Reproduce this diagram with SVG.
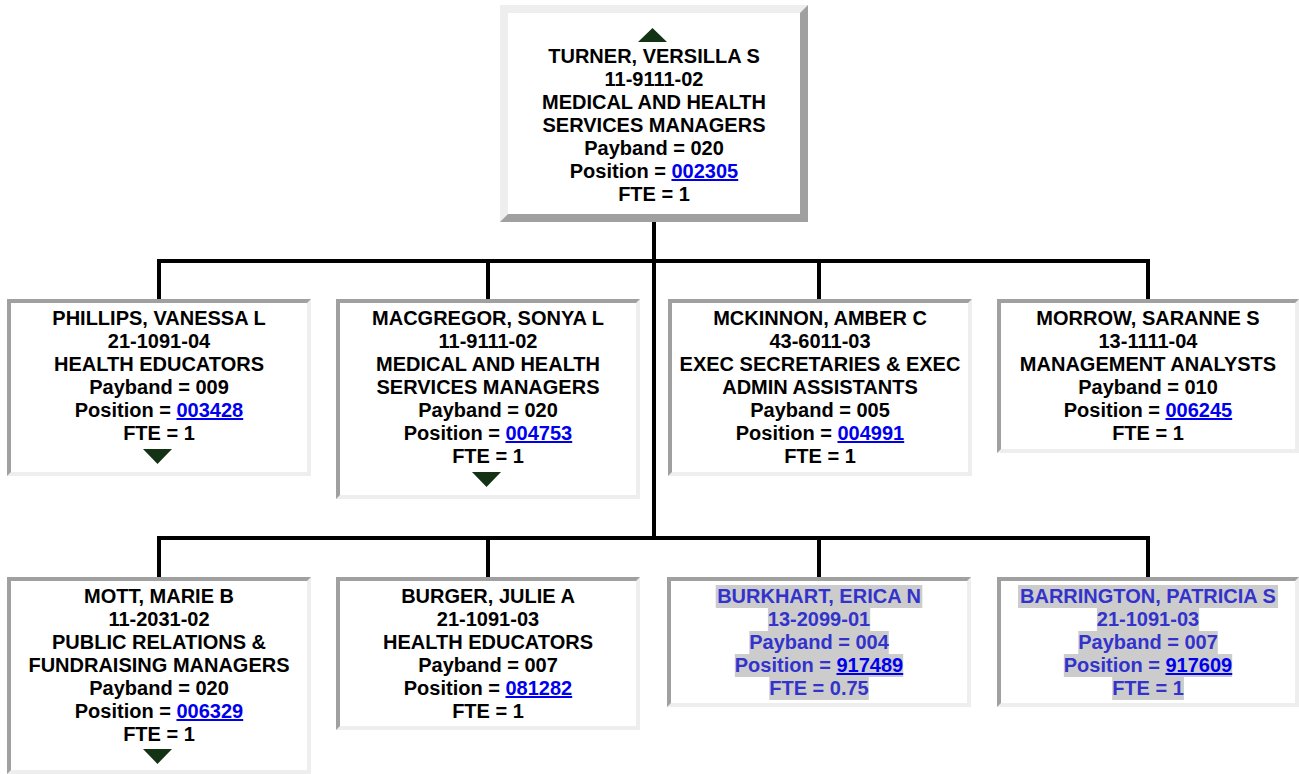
<svg xmlns="http://www.w3.org/2000/svg" width="1299" height="774" viewBox="0 0 1299 774">
<style>
.t{font-family:"Liberation Sans",Arial,sans-serif;font-weight:bold;font-size:20px;text-anchor:middle;fill:#000}
.h{fill:#3333cc}
.lk{fill:#0000ee;text-decoration:underline}
.lt{fill:#eeeeee}
.dk{fill:#a0a0a0}
.in{fill:#ffffff}
.hl{fill:#cccccc}
.tri{fill:#143314}
.conn{stroke:#000;stroke-width:4;fill:none;stroke-linecap:square}
</style>
<defs>
<path id="tri-up" d="M-14.5,14 H14.5 L0,0 Z"/>
<path id="tri-down" d="M-14.5,0 H14.5 L0,15 Z"/>
</defs>
<rect width="1299" height="774" fill="#ffffff"/>
<g id="connectors">
<path class="conn" d="M654,222 V538 M159,261 H1148 M159,261 V299 M488,261 V299 M819,261 V299 M1148,261 V299 M159,538 H1148 M159,538 V577 M488,538 V577 M819,538 V577 M1148,538 V577"/>
</g>
<g id="node-turner">
<rect class="lt" x="500" y="5" width="308" height="217"/>
<path class="dk" d="M808,5 V222 H500 L508,214 H800 V13 Z"/>
<rect class="in" x="508" y="13" width="292" height="201"/>
<use href="#tri-up" class="tri" x="652.5" y="28"/>
<text class="t" x="654" y="63">TURNER, VERSILLA S</text>
<text class="t" x="654" y="86">11-9111-02</text>
<text class="t" x="654" y="109">MEDICAL AND HEALTH</text>
<text class="t" x="654" y="132">SERVICES MANAGERS</text>
<text class="t" x="654" y="155">Payband = 020</text>
<text class="t" x="654" y="178">Position = <tspan class="lk">002305</tspan></text>
<text class="t" x="654" y="201">FTE = 1</text>
</g>
<g id="node-phillips">
<rect class="dk" x="7" y="299" width="304" height="177"/>
<path class="lt" d="M311,299 V476 H7 L11,472 H307 V303 Z"/>
<rect class="in" x="11" y="303" width="296" height="169"/>
<text class="t" x="159" y="325">PHILLIPS, VANESSA L</text>
<text class="t" x="159" y="348">21-1091-04</text>
<text class="t" x="159" y="371">HEALTH EDUCATORS</text>
<text class="t" x="159" y="394">Payband = 009</text>
<text class="t" x="159" y="417">Position = <tspan class="lk">003428</tspan></text>
<text class="t" x="159" y="440">FTE = 1</text>
<use href="#tri-down" class="tri" x="157.5" y="449"/>
</g>
<g id="node-macgregor">
<rect class="dk" x="336" y="299" width="304" height="200"/>
<path class="lt" d="M640,299 V499 H336 L340,495 H636 V303 Z"/>
<rect class="in" x="340" y="303" width="296" height="192"/>
<text class="t" x="488" y="325">MACGREGOR, SONYA L</text>
<text class="t" x="488" y="348">11-9111-02</text>
<text class="t" x="488" y="371">MEDICAL AND HEALTH</text>
<text class="t" x="488" y="394">SERVICES MANAGERS</text>
<text class="t" x="488" y="417">Payband = 020</text>
<text class="t" x="488" y="440">Position = <tspan class="lk">004753</tspan></text>
<text class="t" x="488" y="463">FTE = 1</text>
<use href="#tri-down" class="tri" x="486.5" y="472"/>
</g>
<g id="node-mckinnon">
<rect class="dk" x="668" y="299" width="304" height="177"/>
<path class="lt" d="M972,299 V476 H668 L672,472 H968 V303 Z"/>
<rect class="in" x="672" y="303" width="296" height="169"/>
<text class="t" x="820" y="325">MCKINNON, AMBER C</text>
<text class="t" x="820" y="348">43-6011-03</text>
<text class="t" x="820" y="371">EXEC SECRETARIES &amp; EXEC</text>
<text class="t" x="820" y="394">ADMIN ASSISTANTS</text>
<text class="t" x="820" y="417">Payband = 005</text>
<text class="t" x="820" y="440">Position = <tspan class="lk">004991</tspan></text>
<text class="t" x="820" y="463">FTE = 1</text>
</g>
<g id="node-morrow">
<rect class="dk" x="997" y="299" width="302" height="154"/>
<path class="lt" d="M1299,299 V453 H997 L1001,449 H1295 V303 Z"/>
<rect class="in" x="1001" y="303" width="294" height="146"/>
<text class="t" x="1148" y="325">MORROW, SARANNE S</text>
<text class="t" x="1148" y="348">13-1111-04</text>
<text class="t" x="1148" y="371">MANAGEMENT ANALYSTS</text>
<text class="t" x="1148" y="394">Payband = 010</text>
<text class="t" x="1148" y="417">Position = <tspan class="lk">006245</tspan></text>
<text class="t" x="1148" y="440">FTE = 1</text>
</g>
<g id="node-mott">
<rect class="dk" x="7" y="577" width="304" height="197"/>
<path class="lt" d="M311,577 V774 H7 L11,770 H307 V581 Z"/>
<rect class="in" x="11" y="581" width="296" height="189"/>
<text class="t" x="159" y="603">MOTT, MARIE B</text>
<text class="t" x="159" y="626">11-2031-02</text>
<text class="t" x="159" y="649">PUBLIC RELATIONS &amp;</text>
<text class="t" x="159" y="672">FUNDRAISING MANAGERS</text>
<text class="t" x="159" y="695">Payband = 020</text>
<text class="t" x="159" y="718">Position = <tspan class="lk">006329</tspan></text>
<text class="t" x="159" y="741">FTE = 1</text>
<use href="#tri-down" class="tri" x="157.5" y="749"/>
</g>
<g id="node-burger">
<rect class="dk" x="336" y="577" width="304" height="153"/>
<path class="lt" d="M640,577 V730 H336 L340,726 H636 V581 Z"/>
<rect class="in" x="340" y="581" width="296" height="145"/>
<text class="t" x="488" y="603">BURGER, JULIE A</text>
<text class="t" x="488" y="626">21-1091-03</text>
<text class="t" x="488" y="649">HEALTH EDUCATORS</text>
<text class="t" x="488" y="672">Payband = 007</text>
<text class="t" x="488" y="695">Position = <tspan class="lk">081282</tspan></text>
<text class="t" x="488" y="718">FTE = 1</text>
</g>
<g id="node-burkhart">
<rect class="dk" x="667" y="577" width="304" height="130"/>
<path class="lt" d="M971,577 V707 H667 L671,703 H967 V581 Z"/>
<rect class="in" x="671" y="581" width="296" height="122"/>
<rect class="hl" x="715.7" y="585" width="206.6" height="23"/>
<rect class="hl" x="767.9" y="608" width="102.3" height="23"/>
<rect class="hl" x="749.3" y="631" width="139.5" height="23"/>
<rect class="hl" x="734.8" y="654" width="168.4" height="23"/>
<rect class="hl" x="769.3" y="677" width="99.5" height="23"/>
<text class="t h" x="819" y="603">BURKHART, ERICA N</text>
<text class="t h" x="819" y="626">13-2099-01</text>
<text class="t h" x="819" y="649">Payband = 004</text>
<text class="t h" x="819" y="672">Position = <tspan class="lk">917489</tspan></text>
<text class="t h" x="819" y="695">FTE = 0.75</text>
</g>
<g id="node-barrington">
<rect class="dk" x="997" y="577" width="302" height="130"/>
<path class="lt" d="M1299,577 V707 H997 L1001,703 H1295 V581 Z"/>
<rect class="in" x="1001" y="581" width="294" height="122"/>
<rect class="hl" x="1018" y="585" width="260" height="23"/>
<rect class="hl" x="1096.9" y="608" width="102.3" height="23"/>
<rect class="hl" x="1078.3" y="631" width="139.5" height="23"/>
<rect class="hl" x="1063.8" y="654" width="168.4" height="23"/>
<rect class="hl" x="1112.2" y="677" width="71.7" height="23"/>
<text class="t h" x="1148" y="603">BARRINGTON, PATRICIA S</text>
<text class="t h" x="1148" y="626">21-1091-03</text>
<text class="t h" x="1148" y="649">Payband = 007</text>
<text class="t h" x="1148" y="672">Position = <tspan class="lk">917609</tspan></text>
<text class="t h" x="1148" y="695">FTE = 1</text>
</g>
</svg>
